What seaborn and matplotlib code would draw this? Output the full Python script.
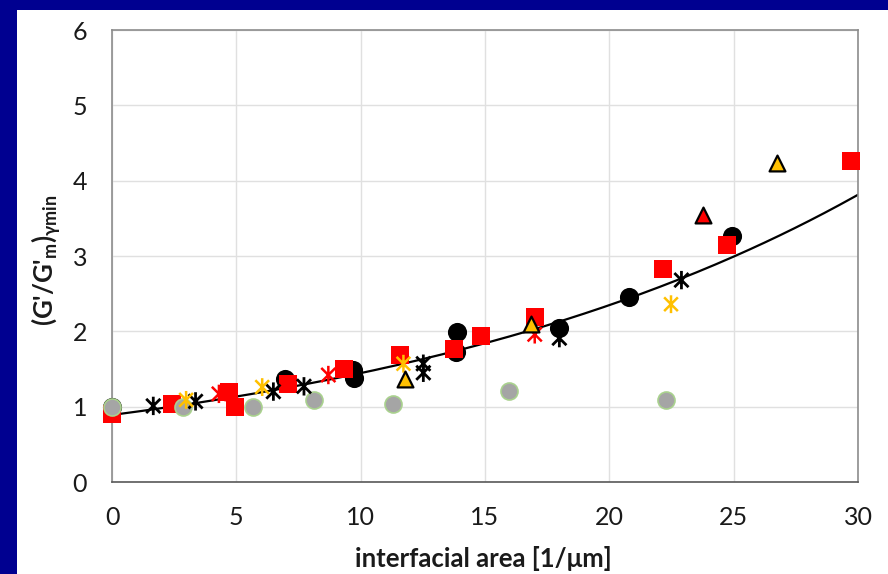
import numpy as np
import pandas as pd
import matplotlib
matplotlib.use("Agg")
import matplotlib.pyplot as plt
from matplotlib.path import Path
from matplotlib.patches import Rectangle
import seaborn as sns

# ---- measured series: interfacial area [1/um] vs normalised modulus ----
sq_red_x = [0.0, 2.4, 4.7, 4.95, 7.08, 9.34, 11.58, 13.75, 14.82, 17.0, 22.15, 24.75, 29.7]
sq_red_y = [0.90, 1.04, 1.19, 1.00, 1.30, 1.50, 1.68, 1.77, 1.94, 2.19, 2.83, 3.15, 4.26]

circ_blk_x = [0.0, 6.95, 9.7, 9.75, 13.85, 13.86, 17.99, 20.79, 24.94]
circ_blk_y = [1.00, 1.37, 1.49, 1.38, 1.73, 1.99, 2.04, 2.46, 3.27]

circ_gry_x = [0.0, 2.87, 5.68, 8.12, 11.31, 15.98, 22.26]
circ_gry_y = [0.99, 1.00, 1.00, 1.09, 1.04, 1.21, 1.09]

ast_blk_x = [1.66, 3.36, 6.49, 7.72, 12.52, 12.52, 17.99, 22.9]
ast_blk_y = [1.01, 1.07, 1.20, 1.27, 1.57, 1.45, 1.91, 2.68]

ast_red_x = [4.3, 8.7, 17.0]
ast_red_y = [1.17, 1.42, 1.96]

ast_org_x = [2.98, 6.04, 11.72, 22.48]
ast_org_y = [1.09, 1.26, 1.57, 2.36]

tri_org_x = [11.8, 16.83, 26.73]
tri_org_y = [1.37, 2.10, 4.24]

tri_red_x = [23.75]
tri_red_y = [3.54]

# exponential trendline y = A * exp(k * x)
fit_A = 0.89
fit_k = 0.0485

x_ticks = [0, 5, 10, 15, 20, 25, 30]
y_ticks = [0, 1, 2, 3, 4, 5, 6]

sns.set_style("white")
plt.rcParams["font.family"] = ["Lato", "DejaVu Sans"]
plt.rcParams["mathtext.fontset"] = "custom"
plt.rcParams["mathtext.rm"] = "Lato:bold"
plt.rcParams["mathtext.it"] = "Lato:bold"
plt.rcParams["mathtext.bf"] = "Lato:bold"

W, H = 888, 574
fig = plt.figure(figsize=(W / 100, H / 100), dpi=100)
fig.patch.set_facecolor("#000090")
fig.patches.append(Rectangle((17 / W, 0), 1 - 17 / W, 1 - 10 / H,
                             transform=fig.transFigure, facecolor="white",
                             edgecolor="none", zorder=-10))

ax = fig.add_axes([112 / W, 92 / H, 746 / W, 452 / H])
ax.set_facecolor("white")

# Asterisk marker: an X crossed by a vertical bar
star_path = Path(
    [(-1, -1), (1, 1), (-1, 1), (1, -1), (0, -1.3), (0, 1.3)],
    [Path.MOVETO, Path.LINETO, Path.MOVETO, Path.LINETO, Path.MOVETO, Path.LINETO],
)

# trendline
xf = np.linspace(0, 30, 200)
sns.lineplot(x=xf, y=fit_A * np.exp(fit_k * xf), ax=ax, color="black",
             linewidth=1.6, zorder=2)


def pts(x, y, **kw):
    sns.scatterplot(x=x, y=y, ax=ax, legend=False, clip_on=False, **kw)


pts(circ_blk_x, circ_blk_y, marker="o", s=190, color="black",
    edgecolor="black", linewidth=0, zorder=4)
pts(sq_red_x, sq_red_y, marker="s", s=170, color="#FF0000",
    edgecolor="#FF0000", linewidth=0, zorder=5)
pts(circ_gry_x, circ_gry_y, marker="o", s=150, color="#A5A5A5",
    edgecolor="#A9D18E", linewidth=1.2, zorder=5.5)
pts(ast_blk_x, ast_blk_y, marker=star_path, s=175, facecolor="none",
    edgecolor="black", linewidth=2.0, zorder=6)
pts(ast_red_x, ast_red_y, marker=star_path, s=175, facecolor="none",
    edgecolor="#FF0000", linewidth=1.8, zorder=6)
pts(ast_org_x, ast_org_y, marker=star_path, s=165, facecolor="none",
    edgecolor="#FFC000", linewidth=1.8, zorder=6)
pts(tri_org_x, tri_org_y, marker="^", s=130, color="#FFC000",
    edgecolor="black", linewidth=1.6, zorder=7)
pts(tri_red_x, tri_red_y, marker="^", s=130, color="#FF0000",
    edgecolor="black", linewidth=1.6, zorder=7)

ax.set_xlim(0, 30)
ax.set_ylim(0, 6)
ax.set_xticks(x_ticks)
ax.set_yticks(y_ticks)
ax.grid(True, color="#E0E0E0", linewidth=1.0)
ax.set_axisbelow(True)
ax.tick_params(axis="both", length=0, labelsize=18, labelcolor="#1a1a1a")
ax.tick_params(axis="x", pad=17)
ax.tick_params(axis="y", pad=18)

for side in ["top", "right", "left"]:
    ax.spines[side].set_color("#8C8C8C")
    ax.spines[side].set_linewidth(1.2)
ax.spines["bottom"].set_color("#595959")
ax.spines["bottom"].set_linewidth(1.2)

ax.set_xlabel("interfacial area [1/\u03bcm]", fontsize=18.5, fontweight="bold",
              color="#1a1a1a")
ax.set_ylabel(r"(G'/G'$_\mathregular{m}$)$_{\gamma \mathregular{min}}$",
              fontsize=18.5, fontweight="bold", color="#1a1a1a")
ax.xaxis.set_label_coords(0.498, -0.141)
ax.yaxis.set_label_coords(-0.066, 0.49)

fig.savefig("out.png", dpi=100, facecolor=fig.get_facecolor())
